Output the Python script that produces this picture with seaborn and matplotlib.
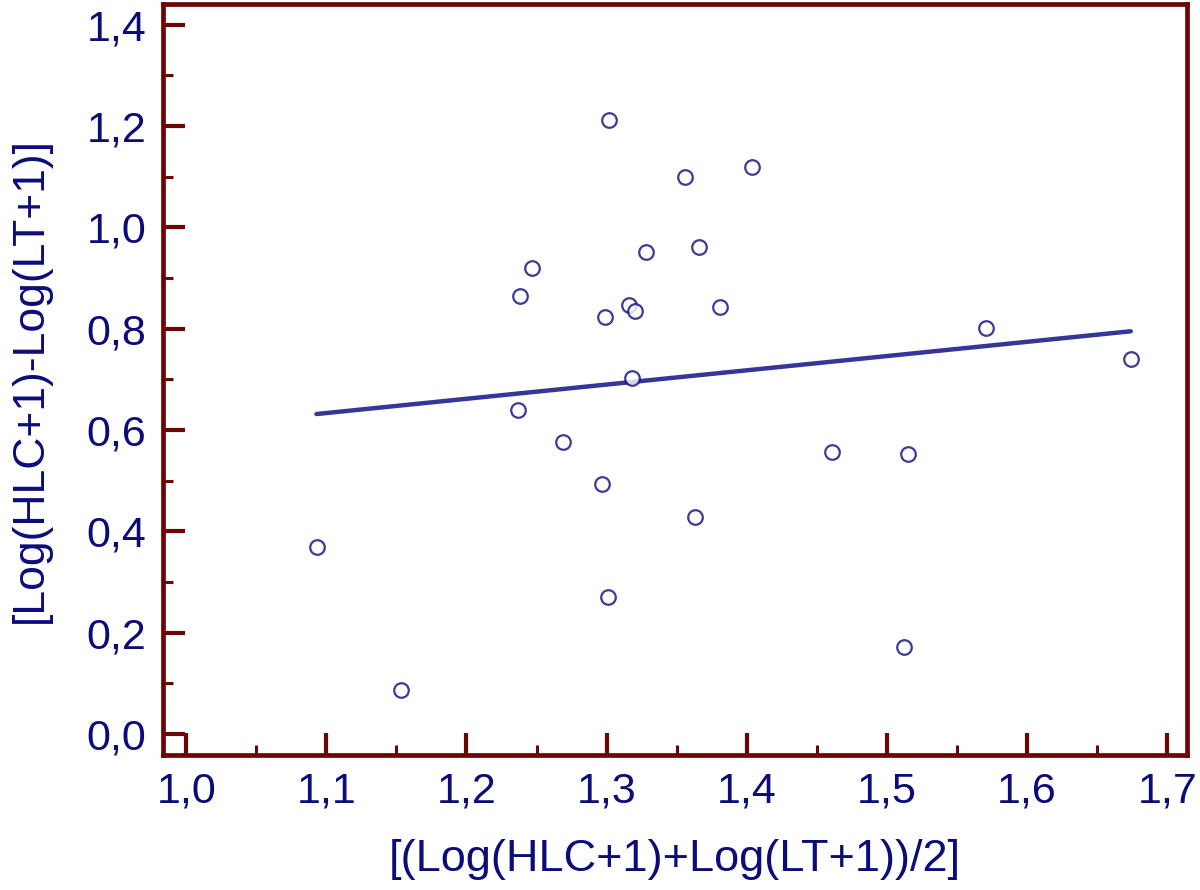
import matplotlib
matplotlib.use("Agg")
import matplotlib.pyplot as plt
import seaborn as sns
import pandas as pd
import numpy as np

# mean of the two log values (x) and their difference (y), one entry per subject
mean_log = [1.093, 1.153, 1.237, 1.238, 1.247, 1.269, 1.297, 1.299, 1.301,
            1.302, 1.316, 1.318, 1.320, 1.328, 1.356, 1.363, 1.366, 1.381,
            1.404, 1.461, 1.512, 1.515, 1.571, 1.674]
diff_log = [0.369, 0.087, 0.640, 0.865, 0.920, 0.577, 0.493, 0.824, 0.271,
            1.211, 0.846, 0.702, 0.835, 0.952, 1.099, 0.428, 0.962, 0.843,
            1.120, 0.557, 0.172, 0.553, 0.802, 0.740]

x_ticks = [1.0, 1.1, 1.2, 1.3, 1.4, 1.5, 1.6, 1.7]
x_ticklabels = ["1,0", "1,1", "1,2", "1,3", "1,4", "1,5", "1,6", "1,7"]
y_ticks = [0.0, 0.2, 0.4, 0.6, 0.8, 1.0, 1.2, 1.4]
y_ticklabels = ["0,0", "0,2", "0,4", "0,6", "0,8", "1,0", "1,2", "1,4"]

x_label = "[(Log(HLC+1)+Log(LT+1))/2]"
y_label = "[Log(HLC+1)-Log(LT+1)]"

df = pd.DataFrame({"mean": mean_log, "diff": diff_log})

sns.set_style("white")
plt.rcParams["font.family"] = ["Liberation Sans", "DejaVu Sans"]

navy = "#0b0b7a"
maroon = "#6e0505"

fig, ax = plt.subplots(figsize=(12, 8.9), dpi=100)
fig.subplots_adjust(left=0.136, right=0.989, bottom=0.152, top=0.995)

sns.regplot(data=df, x="mean", y="diff", ci=None, ax=ax,
            scatter_kws=dict(s=110, facecolors="white", edgecolors=navy,
                             linewidths=1.6, zorder=3),
            line_kws=dict(color="#35359a", lw=3.2, zorder=2))

ax.set_xlim(0.9836, 1.714)
ax.set_ylim(-0.041, 1.44)

ax.set_xticks(x_ticks)
ax.set_xticklabels(x_ticklabels)
ax.set_yticks(y_ticks)
ax.set_yticklabels(y_ticklabels)
ax.set_xticks(np.arange(1.05, 1.7, 0.1), minor=True)
ax.set_yticks(np.arange(0.1, 1.4, 0.2), minor=True)

ax.tick_params(which="major", direction="in", length=16, width=3,
               color=maroon, labelsize=31, labelcolor=navy, pad=12)
ax.tick_params(which="minor", direction="in", length=7.5, width=2.2,
               color=maroon)
ax.tick_params(axis="x", which="both", top=False, bottom=True)
ax.tick_params(axis="y", which="both", right=False, left=True)

for sp in ax.spines.values():
    sp.set_color(maroon)
    sp.set_linewidth(3.4)

ax.set_xlabel(x_label, fontsize=32.5, color=navy, labelpad=20)
ax.set_ylabel(y_label, fontsize=32, color=navy, labelpad=26)

fig.savefig("out.png", dpi=100, facecolor="white")
